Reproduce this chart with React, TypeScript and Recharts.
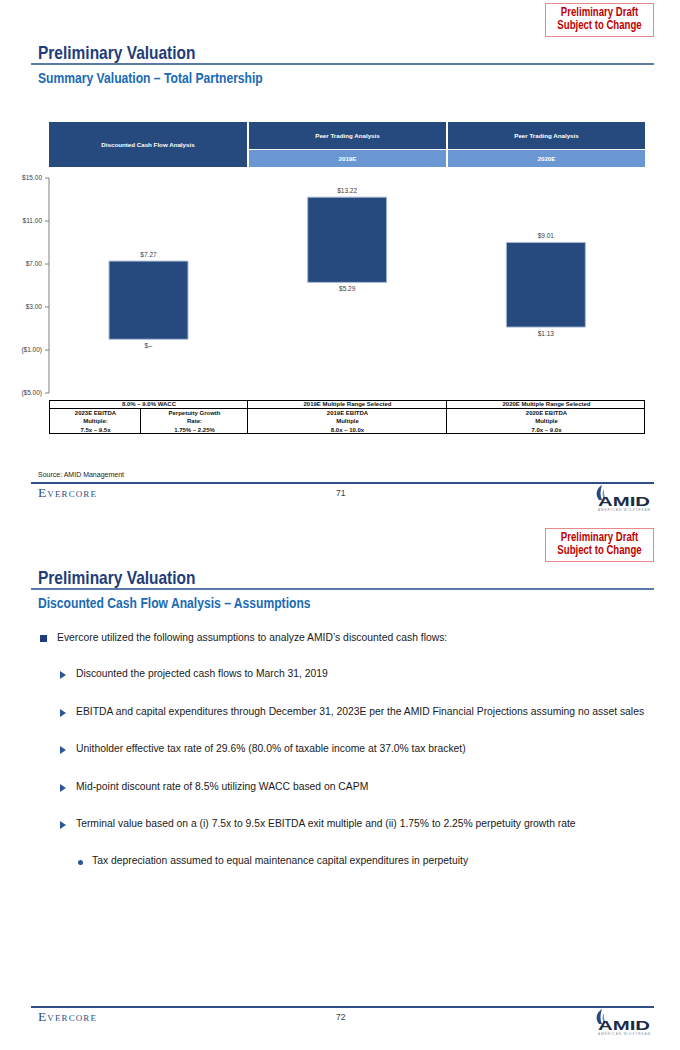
import React from 'react';
import { BarChart, Bar, XAxis, YAxis, LabelList } from 'recharts';

// chart values
const categories = ['Discounted Cash Flow Analysis', 'Peer Trading 2019E', 'Peer Trading 2020E'];
const lowValues = [0, 5.29, 1.13];
const highValues = [7.27, 13.22, 9.01];
const yTicks = [-5, -1, 3, 7, 11, 15];

// table text
const headerTop = ['Discounted Cash Flow Analysis', 'Peer Trading Analysis', 'Peer Trading Analysis'];
const headerSub = ['2019E', '2020E'];
const footRow1 = ['8.0% – 9.0% WACC', '2019E Multiple Range Selected', '2020E Multiple Range Selected'];
const footRow2 = [
    ['2023E EBITDA', 'Multiple:', '7.5x – 9.5x'],
    ['Perpetuity Growth', 'Rate:', '1.75% – 2.25%'],
    ['2019E EBITDA', 'Multiple', '8.0x – 10.0x'],
    ['2020E EBITDA', 'Multiple', '7.0x – 9.0x'],
];

const assumptions = [
    'Discounted the projected cash flows to March 31, 2019',
    'EBITDA and capital expenditures through December 31, 2023E per the AMID Financial Projections assuming no asset sales',
    'Unitholder effective tax rate of 29.6% (80.0% of taxable income at 37.0% tax bracket)',
    'Mid-point discount rate of 8.5% utilizing WACC based on CAPM',
    'Terminal value based on a (i) 7.5x to 9.5x EBITDA exit multiple and (ii) 1.75% to 2.25% perpetuity growth rate',
];

const SANS = '"Liberation Sans", Arial, sans-serif';
const NAVY = '#264A7E';
const BODY = 10.35;

const chartData = categories.map((name, i) => ({ name, range: [lowValues[i], highValues[i]] }));

const money = (v: number) => {
    if (v === 0) return '$--';
    if (v < 0) return `($${Math.abs(v).toFixed(2)})`;
    return `$${v.toFixed(2)}`;
};

const RangeLabel = (props: any) => {
    const { x, y, width, height, index } = props;
    const top = Math.min(y, y + height);
    const bottom = Math.max(y, y + height);
    const cx = x + width / 2;
    return (
        <g fontFamily={SANS} fontSize={6.5} fill="#404040">
            <text x={cx} y={top - 4} textAnchor="middle">{money(highValues[index])}</text>
            <text x={cx} y={bottom + 9} textAnchor="middle">{money(lowValues[index])}</text>
        </g>
    );
};

// no narrow font installed, so squeeze Liberation Sans instead
const Narrow = ({ k, origin = 'left', children }: { k: number; origin?: string; children: React.ReactNode }) => (
    <div style={{ transform: `scaleX(${k})`, transformOrigin: origin, whiteSpace: 'nowrap' }}>{children}</div>
);

const DraftBox = ({ top }: { top: number }) => (
    <div style={{
        position: 'absolute', left: 545, top, width: 107, height: 30,
        border: '1px solid #E8898A', color: '#C00000', fontFamily: SANS,
        fontWeight: 'bold', fontSize: 12, lineHeight: '13px', textAlign: 'center',
        paddingTop: 2, boxSizing: 'content-box',
    }}>
        <Narrow k={0.8} origin="center">Preliminary Draft</Narrow>
        <Narrow k={0.8} origin="center">Subject to Change</Narrow>
    </div>
);

const Header = ({ offset, subtitle }: { offset: number; subtitle: string }) => (
    <>
        <DraftBox top={3 + offset} />
        <div style={{ position: 'absolute', left: 38, top: 42 + offset, fontFamily: SANS, fontWeight: 'bold', fontSize: 19, color: '#1F3D7B' }}>
            <Narrow k={0.815}>Preliminary Valuation</Narrow>
        </div>
        <div style={{ position: 'absolute', left: 31, top: 63 + offset, width: 623, height: 2, background: '#5A7BA9' }} />
        <div style={{ position: 'absolute', left: 38, top: 70 + offset, fontFamily: SANS, fontWeight: 'bold', fontSize: 14.5, color: '#1A6AB4' }}>
            <Narrow k={0.836}>{subtitle}</Narrow>
        </div>
    </>
);

const AmidLogo = ({ top }: { top: number }) => (
    <svg style={{ position: 'absolute', left: 594, top }} width={60} height={28} viewBox="0 0 60 28">
        <path d="M8 1 C2 5 1 11 5 16 L8 16 C6 12 6 7 8 1 Z" fill={NAVY} />
        <path d="M10 5 C8 9 8 12 10 15 L12 15 C10 12 10 9 10 5 Z" fill="#6A96D1" />
        <text x={4} y={22} fontFamily={SANS} fontWeight="bold" fontSize={13} fill="#1B2A45" textLength={52} lengthAdjust="spacingAndGlyphs">AMID</text>
        <text x={4} y={26.5} fontFamily={SANS} fontSize={3} fill="#7F8C9F" textLength={52}>AMERICAN MIDSTREAM</text>
    </svg>
);

const Footer = ({ top, page }: { top: number; page: number }) => (
    <>
        <div style={{ position: 'absolute', left: 31, top, width: 623, height: 2, background: '#2E4F85' }} />
        <div style={{ position: 'absolute', left: 38, top: top + 3, fontFamily: '"Liberation Serif", serif', fontVariant: 'small-caps', fontSize: 13.5, color: '#2E4E84', letterSpacing: 1.1 }}>
            Evercore
        </div>
        <div style={{ position: 'absolute', left: 336, top: top + 6, fontFamily: SANS, fontSize: 8.5, color: '#3A3A3A' }}>{page}</div>
        <AmidLogo top={top + 2} />
    </>
);

const cell = (left: number, top: number, width: number, height: number, bg: string, text: string) => (
    <div key={`${left}-${top}`} style={{
        position: 'absolute', left, top, width, height, background: bg, color: '#fff',
        fontFamily: SANS, fontWeight: 'bold', fontSize: 6.2, display: 'flex',
        alignItems: 'center', justifyContent: 'center',
    }}>{text}</div>
);

const ValuationChart = () => (
    <div style={{ position: 'absolute', left: 0, top: 170 }}>
        <BarChart width={680} height={232} data={chartData} margin={{ top: 8, right: 35, bottom: 9, left: 0 }} barSize={79}>
            <XAxis dataKey="name" hide />
            <YAxis
                type="number"
                domain={[-5, 15]}
                ticks={yTicks}
                width={49}
                tickSize={4}
                tickMargin={3}
                interval={0}
                tickFormatter={money}
                axisLine={{ stroke: '#808080' }}
                tickLine={{ stroke: '#808080' }}
                tick={{ fontSize: 6.5, fill: '#404040', fontFamily: SANS }}
            />
            <Bar dataKey="range" fill={NAVY} stroke="#A9BCD6" strokeWidth={1} isAnimationActive={false}>
                <LabelList dataKey="range" content={RangeLabel} />
            </Bar>
        </BarChart>
    </div>
);

const FootTable = () => {
    const border = '1px solid #000';
    const txt = { fontFamily: SANS, fontWeight: 'bold' as const, fontSize: 6, color: '#111', textAlign: 'center' as const };
    const cols = [49, 247, 446, 645];
    return (
        <div style={{ position: 'absolute', left: 49, top: 400, width: 596, height: 34, border, boxSizing: 'border-box' }}>
            <div style={{ position: 'absolute', left: 0, top: 7, width: 594, height: 0, borderTop: border }} />
            {[1, 2].map(i => (
                <div key={i} style={{ position: 'absolute', left: cols[i] - 49 - 1, top: 0, height: 32, borderLeft: border }} />
            ))}
            <div style={{ position: 'absolute', left: 140 - 49 - 1, top: 7, height: 25, borderLeft: border }} />
            {footRow1.map((t, i) => (
                <div key={t} style={{ ...txt, position: 'absolute', left: cols[i] - 49, top: 0, width: cols[i + 1] - cols[i], lineHeight: '7px' }}>{t}</div>
            ))}
            {footRow2.map((lines, i) => {
                const bounds = [[49, 140], [140, 247], [247, 446], [446, 645]][i];
                return (
                    <div key={i} style={{ ...txt, position: 'absolute', left: bounds[0] - 49, top: 8, width: bounds[1] - bounds[0], lineHeight: '8.3px' }}>
                        {lines.map(l => <div key={l}>{l}</div>)}
                    </div>
                );
            })}
        </div>
    );
};

export default function App() {
    return (
        <div style={{ position: 'absolute', left: 0, top: 0, width: 680, height: 1050, background: '#fff', overflow: 'hidden' }}>
            {/* slide 71 */}
            <Header offset={0} subtitle="Summary Valuation – Total Partnership" />
            {cell(49, 122, 198, 45, NAVY, headerTop[0])}
            {cell(249, 122, 197, 27, NAVY, headerTop[1])}
            {cell(448, 122, 197, 27, NAVY, headerTop[2])}
            {cell(249, 150, 197, 17, '#6A96D1', headerSub[0])}
            {cell(448, 150, 197, 17, '#6A96D1', headerSub[1])}
            <ValuationChart />
            <FootTable />
            <div style={{ position: 'absolute', left: 38, top: 471, fontFamily: SANS, fontSize: 7, color: '#222' }}>Source: AMID Management</div>
            <Footer top={482} page={71} />

            {/* slide 72 */}
            <Header offset={525} subtitle="Discounted Cash Flow Analysis – Assumptions" />
            <div style={{ position: 'absolute', left: 40, top: 635, width: 7, height: 7, background: '#1F3D7B' }} />
            <div style={{ position: 'absolute', left: 57, top: 632, fontFamily: SANS, fontSize: BODY, color: '#1a1a1a', whiteSpace: 'nowrap' }}>
                Evercore utilized the following assumptions to analyze AMID’s discounted cash flows:
            </div>
            {assumptions.map((t, i) => {
                const y = 675 + i * 37.5;
                return (
                    <React.Fragment key={t}>
                        <svg style={{ position: 'absolute', left: 60, top: y - 4 }} width={7} height={8}>
                            <path d="M0 0 L6 4 L0 8 Z" fill="#2F5597" />
                        </svg>
                        <div style={{ position: 'absolute', left: 76, top: y - 7, fontFamily: SANS, fontSize: BODY, color: '#1a1a1a', whiteSpace: 'nowrap' }}>{t}</div>
                    </React.Fragment>
                );
            })}
            <div style={{ position: 'absolute', left: 78, top: 860, width: 5, height: 5, borderRadius: 3, background: '#2F5597' }} />
            <div style={{ position: 'absolute', left: 92, top: 855, fontFamily: SANS, fontSize: BODY, color: '#1a1a1a', whiteSpace: 'nowrap' }}>
                Tax depreciation assumed to equal maintenance capital expenditures in perpetuity
            </div>
            <Footer top={1006} page={72} />
        </div>
    );
}
